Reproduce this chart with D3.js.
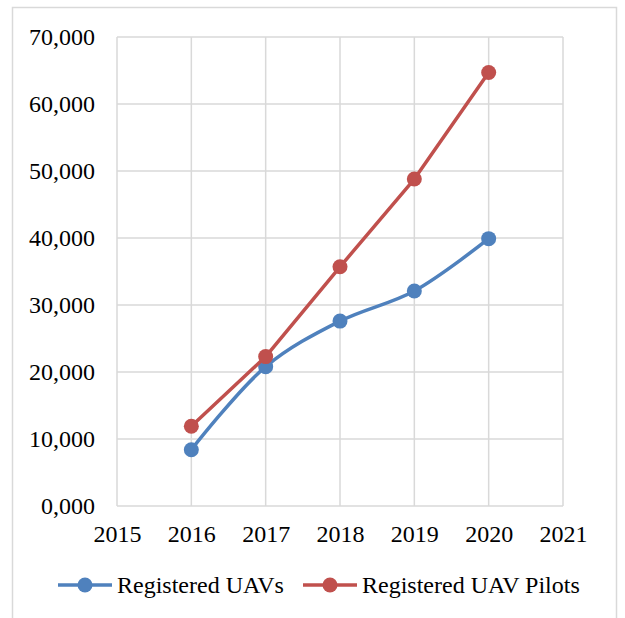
<!DOCTYPE html>
<html lang="en">
	<head>
		<meta charset="utf-8">
		<title>Registered UAVs and UAV pilots</title>
		<script type="text/javascript" src="https://d3js.org/d3.v7.min.js"></script>
		<style>
			body { margin: 0; background: #fff; }
			svg text { font-family: "Liberation Serif", "Times New Roman", serif; fill: #000; }
		</style>
	</head>
	<body>
		<svg></svg>
		<script type="text/javascript">
			// values in thousands
			var years = [2016, 2017, 2018, 2019, 2020];
			var uavs = [8.4, 20.8, 27.6, 32.1, 39.9];
			var pilots = [11.9, 22.3, 35.7, 48.8, 64.7];
			var seriesNames = ["Registered UAVs", "Registered UAV Pilots"];
			var seriesColors = ["#4F81BD", "#C0504D"];
			var xTicks = [2015, 2016, 2017, 2018, 2019, 2020, 2021];
			var yTicks = [0, 10, 20, 30, 40, 50, 60, 70];

			var width = 625;
			var height = 618;
			var margin = { top: 37, right: 62, bottom: 112, left: 117 };

			var svg = d3.select("svg")
				.attr("width", width)
				.attr("height", height);

			// outer chart border
			svg.append("rect")
				.attr("x", 12.5)
				.attr("y", 7.5)
				.attr("width", 604)
				.attr("height", 620)
				.attr("fill", "none")
				.attr("stroke", "#D9D9D9")
				.attr("stroke-width", 1.5);

			var x = d3.scaleLinear()
				.domain([2015, 2021])
				.range([margin.left, width - margin.right]);

			var y = d3.scaleLinear()
				.domain([0, 70])
				.range([height - margin.bottom, margin.top]);

			// "70,000" style labels: comma as decimal mark
			var fmt = d3.formatLocale({ decimal: ",", thousands: ".", grouping: [3], currency: ["", ""] }).format(".3f");

			// grid
			svg.append("g")
				.selectAll("line")
				.data(yTicks)
				.enter()
				.append("line")
				.attr("x1", x(2015))
				.attr("x2", x(2021))
				.attr("y1", function(d) { return y(d); })
				.attr("y2", function(d) { return y(d); })
				.attr("stroke", "#D9D9D9")
				.attr("stroke-width", 1.5);

			svg.append("g")
				.selectAll("line")
				.data(xTicks)
				.enter()
				.append("line")
				.attr("x1", function(d) { return x(d); })
				.attr("x2", function(d) { return x(d); })
				.attr("y1", y(0))
				.attr("y2", y(70))
				.attr("stroke", "#D9D9D9")
				.attr("stroke-width", 1.5);

			// axes, only their labels
			var yAxis = svg.append("g")
				.attr("transform", "translate(" + margin.left + ",0)")
				.call(d3.axisLeft(y).tickValues(yTicks).tickFormat(fmt).tickSize(0).tickPadding(22));
			yAxis.select(".domain").remove();
			yAxis.selectAll("text").attr("font-size", 24);

			var xAxis = svg.append("g")
				.attr("transform", "translate(0," + y(0) + ")")
				.call(d3.axisBottom(x).tickValues(xTicks).tickFormat(d3.format("d")).tickSize(0).tickPadding(19));
			xAxis.select(".domain").remove();
			xAxis.selectAll("text").attr("font-size", 24);

			var series = [uavs, pilots];
			var curves = [d3.curveCatmullRom, d3.curveLinear];

			series.forEach(function(values, i) {
				var line = d3.line()
					.x(function(d, j) { return x(years[j]); })
					.y(function(d) { return y(d); })
					.curve(curves[i]);

				svg.append("path")
					.datum(values)
					.attr("d", line)
					.attr("fill", "none")
					.attr("stroke", seriesColors[i])
					.attr("stroke-width", 3.5)
					.attr("stroke-linejoin", "round");

				svg.append("g")
					.selectAll("circle")
					.data(values)
					.enter()
					.append("circle")
					.attr("cx", function(d, j) { return x(years[j]); })
					.attr("cy", function(d) { return y(d); })
					.attr("r", 7.5)
					.attr("fill", seriesColors[i]);
			});

			// legend
			var legendX = [58, 303];
			var legend = svg.append("g")
				.selectAll("g")
				.data(seriesNames)
				.enter()
				.append("g")
				.attr("transform", function(d, i) { return "translate(" + legendX[i] + ",585)"; });

			legend.append("line")
				.attr("x1", 0)
				.attr("x2", 54)
				.attr("stroke", function(d, i) { return seriesColors[i]; })
				.attr("stroke-width", 3.5);

			legend.append("circle")
				.attr("cx", 27)
				.attr("r", 7.5)
				.attr("fill", function(d, i) { return seriesColors[i]; });

			legend.append("text")
				.attr("x", 59)
				.attr("y", 8)
				.attr("font-size", 24)
				.text(function(d) { return d; });
		</script>
	</body>
</html>
